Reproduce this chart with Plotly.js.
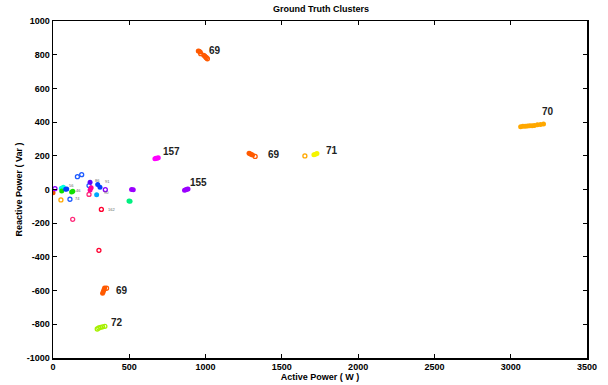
<!DOCTYPE html>
<html><head><meta charset="utf-8">
<script src="https://cdn.plot.ly/plotly-3.0.1.min.js"></script>
<style>body{margin:0;background:#fff}#chart{width:608px;height:385px}</style>
</head><body><div id="chart"></div>
<script>
// ---- data ----
const xTicks = [0, 500, 1000, 1500, 2000, 2500, 3000, 3500];
const yTicks = [-1000, -800, -600, -400, -200, 0, 200, 400, 600, 800, 1000];

// labelled clusters
const c69TopX = [952, 958, 965, 988, 995, 1000];
const c69TopY = [822, 820, 816, 797, 792, 787];
const c69TopOpenX = [968, 1005, 1012];
const c69TopOpenY = [806, 782, 776];
const c70X = [3065, 3080, 3095, 3110, 3125, 3140, 3155, 3175, 3195, 3215];
const c70Y = [373, 375, 376, 377, 378, 379, 380, 385, 386, 388];
const c69MidX = [1285, 1292, 1300, 1308];
const c69MidY = [215, 212, 208, 205];
const c69MidOpenX = [1325];
const c69MidOpenY = [196];
const c71X = [1710, 1720, 1730];
const c71Y = [206, 209, 213];
const c71OpenX = [1651];
const c71OpenY = [199];
const c157X = [668, 675, 682, 690];
const c157Y = [183, 185, 186, 188];
const c155X = [862, 870, 878, 885];
const c155Y = [-5, -2, 1, 3];
const c69BotX = [325, 330, 334, 338];
const c69BotY = [-615, -605, -595, -585];
const c69BotOpenX = [351];
const c69BotOpenY = [-586];
const c72X = [290, 300, 312, 325, 340];
const c72Y = [-828, -822, -818, -815, -812];

// small clusters near the origin
const blueOpenX = [160, 188, 111, 236];
const blueOpenY = [76, 88, -58, 23];
const orangeOpenX = [52];
const orangeOpenY = [-62];
const redOrangeX = [0];
const redOrangeY = [-19];
const purpleOpenX = [13, 343];
const purpleOpenY = [5, -1];
const cyanX = [55, 68];
const cyanY = [8, 13];
const greenX = [57, 122, 130];
const greenY = [-9, -15, -10];
const blueX = [83, 90, 293, 308];
const blueY = [1, 3, 29, 13];
const pinkX = [243, 250];
const pinkY = [-3, 10];
const pinkOpenX = [236, 129];
const pinkOpenY = [-29, -177];
const violetX = [243];
const violetY = [43];
const skyX = [286];
const skyY = [-31];
const redOpenX = [317, 301];
const redOpenY = [-118, -361];
const purpleX = [515, 526];
const purpleY = [0, -1];
const springX = [498, 505];
const springY = [-68, -70];

// cluster labels
const labelText = ['69', '70', '69', '71', '157', '155', '69', '72'];
const labelX = [1009, 3191, 1394, 1776, 708, 885, 402, 369];
const labelY = [824, 462, 209, 230, 228, 40, -600, -790];
const smallLabelText = ['86', '91', '90', '162', '74', '56', '46'];
const smallLabelX = [262, 328, 321, 347, 131, 92, 138];
const smallLabelY = [56, 45, -20, -116, -56, 21, -3];

// ---- drawing ----
function filled(x, y, color) {
  return {x: x, y: y, type: 'scatter', mode: 'markers', showlegend: false, hoverinfo: 'x+y',
    marker: {size: 5, color: color, line: {width: 0}}};
}
function open(x, y, color) {
  return {x: x, y: y, type: 'scatter', mode: 'markers', showlegend: false, hoverinfo: 'x+y',
    marker: {size: 4, symbol: 'circle-open', color: color, line: {width: 1.3, color: color}}};
}
const ORR = '#FF5A00';
const traces = [
  filled(c69TopX, c69TopY, ORR), open(c69TopOpenX, c69TopOpenY, ORR),
  filled(c70X, c70Y, '#FFA800'),
  filled(c69MidX, c69MidY, ORR), open(c69MidOpenX, c69MidOpenY, ORR),
  filled(c71X, c71Y, '#F5F500'), open(c71OpenX, c71OpenY, '#FFA800'),
  filled(c157X, c157Y, '#FF00FF'),
  filled(c155X, c155Y, '#9A00FF'),
  filled(c69BotX, c69BotY, ORR), open(c69BotOpenX, c69BotOpenY, ORR),
  open(c72X, c72Y, '#A6F000'),
  open(blueOpenX, blueOpenY, '#1E5BFF'),
  open(orangeOpenX, orangeOpenY, '#FFA800'),
  filled(redOrangeX, redOrangeY, '#F05000'),
  open(purpleOpenX, purpleOpenY, '#8A00FF'),
  filled(cyanX, cyanY, '#00FFE0'),
  filled(greenX, greenY, '#10E000'),
  filled(blueX, blueY, '#0040FF'),
  filled(pinkX, pinkY, '#FF0098'),
  open(pinkOpenX, pinkOpenY, '#FF2A7A'),
  filled(violetX, violetY, '#5A00FF'),
  filled(skyX, skyY, '#00A8FF'),
  open(redOpenX, redOpenY, '#FF0030'),
  filled(purpleX, purpleY, '#9A00FF'),
  filled(springX, springY, '#00F080')
];

const annotations = labelText.map((t, i) => ({
  x: labelX[i], y: labelY[i], text: t, showarrow: false, xanchor: 'left', yanchor: 'middle',
  font: {family: 'Liberation Sans, Arial', size: 10, color: '#222', weight: 'bold'}
})).concat(smallLabelText.map((t, i) => ({
  x: smallLabelX[i], y: smallLabelY[i], text: t, showarrow: false, xanchor: 'left', yanchor: 'middle',
  font: {family: 'Liberation Sans, Arial', size: 4, color: '#666'}
})));

const axisCommon = {
  showgrid: false, zeroline: false, showline: true, linecolor: '#000', linewidth: 1.5,
  mirror: 'ticks', ticks: 'inside', ticklen: 4, tickwidth: 1, tickcolor: '#000',
  tickfont: {family: 'Liberation Sans, Arial', size: 9, color: '#000', weight: 'bold'}
};
const layout = {
  width: 608, height: 385,
  margin: {l: 53, r: 21, t: 21, b: 27},
  paper_bgcolor: '#fff', plot_bgcolor: '#fff',
  title: {text: 'Ground Truth Clusters', x: 0.528, xanchor: 'center', y: 0.985, yanchor: 'top',
    font: {family: 'Liberation Sans, Arial', size: 9, color: '#000', weight: 'bold'}},
  xaxis: Object.assign({}, axisCommon, {range: [0, 3500], tickvals: xTicks, ticktext: xTicks.map(String),
    title: {text: 'Active Power ( W )', standoff: 1,
      font: {family: 'Liberation Sans, Arial', size: 9, color: '#000', weight: 'bold'}}}),
  yaxis: Object.assign({}, axisCommon, {range: [-1000, 1000], tickvals: yTicks, ticktext: yTicks.map(String),
    title: {text: 'Reactive Power ( Var )', standoff: 2,
      font: {family: 'Liberation Sans, Arial', size: 9, color: '#000', weight: 'bold'}}}),
  annotations: annotations
};
Plotly.newPlot('chart', traces, layout, {displayModeBar: false, staticPlot: true});
</script></body></html>
